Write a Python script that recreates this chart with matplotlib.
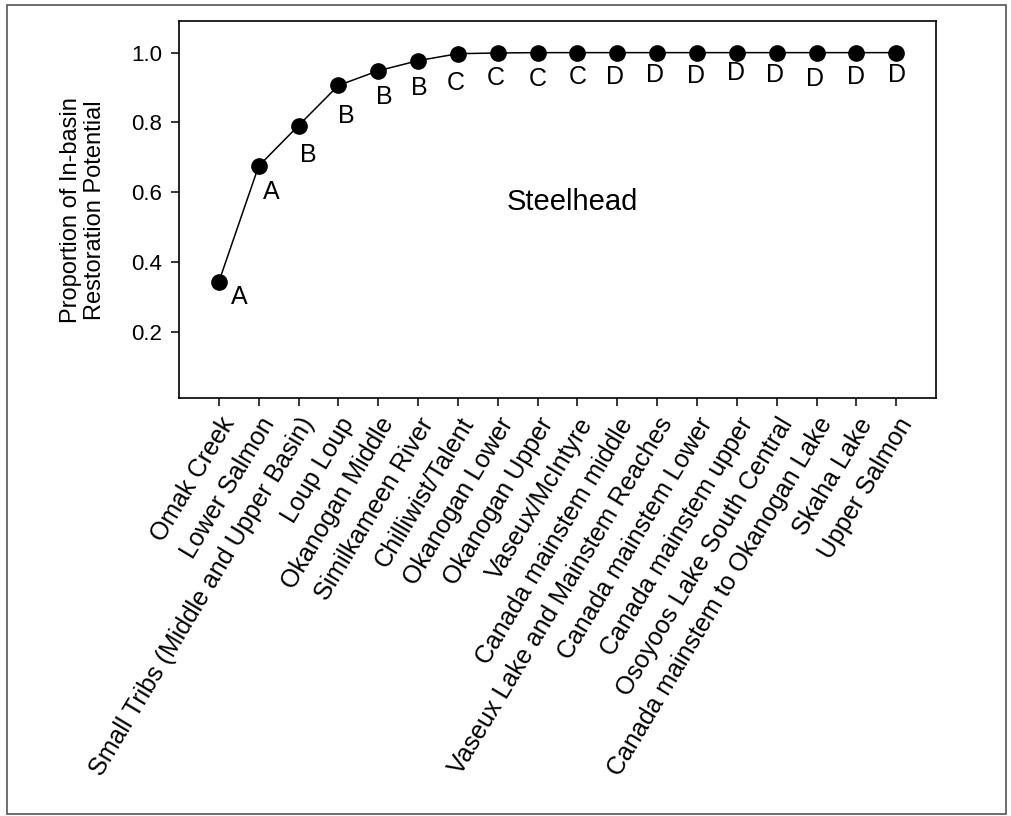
import numpy as np
import matplotlib.pyplot as plt
from matplotlib.patches import Rectangle

plt.rcParams['font.family'] = ['Liberation Sans', 'DejaVu Sans']

# data
sites = ['Omak Creek', 'Lower Salmon', 'Small Tribs (Middle and Upper Basin)',
         'Loup Loup', 'Okanogan Middle', 'Similkameen River', 'Chilliwist/Talent',
         'Okanogan Lower', 'Okanogan Upper', 'Vaseux/McIntyre',
         'Canada mainstem middle', 'Vaseux Lake and Mainstem Reaches',
         'Canada mainstem Lower', 'Canada mainstem upper',
         'Osoyoos Lake South Central', 'Canada mainstem to Okanogan Lake',
         'Skaha Lake', 'Upper Salmon']
proportion = [0.343, 0.675, 0.791, 0.906, 0.948, 0.977, 0.997, 0.999, 1.0, 1.0,
              1.0, 1.0, 1.0, 1.0, 1.0, 1.0, 1.0, 1.0]
groups = ['A', 'A', 'B', 'B', 'B', 'B', 'C', 'C', 'C', 'C',
          'D', 'D', 'D', 'D', 'D', 'D', 'D', 'D']

# where each group letter sits relative to its point (pixels, right / down)
letter_dx = [20, 13, 10, 8, 6, 1, -2, -2, 0, 0, -2, -2, -1, -1, -2, -2, 0, 1]
letter_dy = [15, 26, 29, 31, 26, 27, 29, 25, 26, 24, 24, 22, 23, 20, 22, 26, 24, 22]

fig = plt.figure(figsize=(10.11, 8.16), dpi=100)
ax = fig.add_axes([0.177, 0.512, 0.749, 0.462])

x = np.arange(len(sites))
ax.plot(x, proportion, '-', color='black', lw=1.1, marker='o', ms=11,
        mfc='black', mec='black', zorder=3)

for xi, yi, g, dx, dy in zip(x, proportion, groups, letter_dx, letter_dy):
    ax.annotate(g, (xi, yi), xytext=(dx * 0.72, -dy * 0.72), textcoords='offset points',
                ha='center', va='center', fontsize=18)

ax.text(8.88, 0.571, 'Steelhead', ha='center', va='center', fontsize=21)

ax.set_xlim(-1, 18)
ax.set_ylim(0.01, 1.09)
ax.set_yticks([0.2, 0.4, 0.6, 0.8, 1.0])
ax.set_yticklabels(['0.2', '0.4', '0.6', '0.8', '1.0'])
ax.set_xticks(x)
ax.set_xticklabels(sites, rotation=59, ha='right', rotation_mode='anchor', fontsize=18)
ax.tick_params(direction='out', length=6, width=1.1, labelsize=16, pad=6)
ax.tick_params(axis='x', labelsize=18, pad=5)
ax.set_ylabel('Proportion of In-basin\nRestoration Potential', fontsize=17,
              labelpad=18, linespacing=1.15)
for s in ax.spines.values():
    s.set_linewidth(1.2)

fig.patches.append(Rectangle((0.007, 0.003), 0.988, 0.991, transform=fig.transFigure,
                             fill=False, edgecolor='#555555', lw=1.2))

fig.savefig('out.png', dpi=100)
